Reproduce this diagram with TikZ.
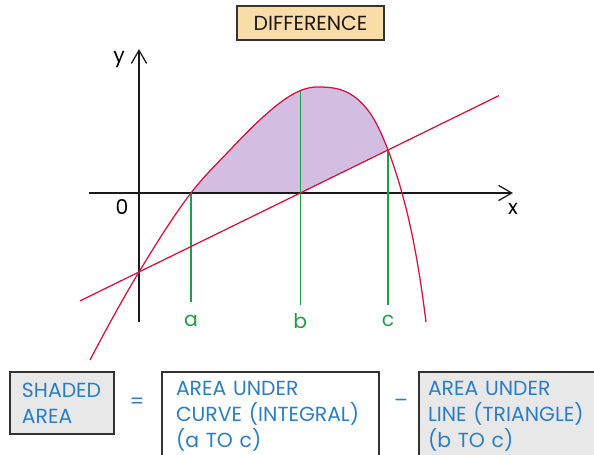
\documentclass[tikz,border=0pt]{standalone}
\usepackage{fontspec}
\setmainfont{Poppins}
\usetikzlibrary{positioning, arrows.meta}
\definecolor{curveDraw}{HTML}{D2133E}
\definecolor{guideDraw}{HTML}{1FA046}
\definecolor{shadeFill}{HTML}{D3BEE2}
\definecolor{termText}{HTML}{2A7EC4}
\definecolor{termFill}{HTML}{E8E8E8}
\definecolor{termDraw}{HTML}{333333}
\definecolor{diffFill}{HTML}{FADCA8}
\definecolor{axisDraw}{HTML}{1A1A1A}
\newcommand\curvepath{(-1.225,-4.175) .. controls (-0.817,-3.399) and (-0.408,-2.649) .. (0,-1.975)
  .. controls (0.433,-1.26) and (0.867,-0.563) .. (1.3,0)
  .. controls (1.625,0.423) and (1.95,0.734) .. (2.275,1.075)
  .. controls (2.55,1.364) and (2.825,1.653) .. (3.1,1.9)
  .. controls (3.55,2.305) and (4.0,2.65) .. (4.45,2.65)
  .. controls (4.892,2.65) and (5.333,2.618) .. (5.775,2.0)
  .. controls (5.925,1.79) and (6.075,1.465) .. (6.225,1.075)
  .. controls (6.342,0.772) and (6.458,0.42) .. (6.575,0)
  .. controls (6.775,-0.72) and (6.975,-1.625) .. (7.175,-3.225)}

\begin{document}
\begin{tikzpicture}[
  font=\fontsize{14.5}{18.4}\selectfont,
  term/.style={rectangle, draw=termDraw, line width=0.9pt, align=left,
               text=termText, inner ysep=0pt},
  gterm/.style={term, fill=termFill},
  wterm/.style={term, fill=white},
  axis/.style={-{Straight Barb[length=3.3mm,width=3.8mm]}, line width=0.9pt, draw=axisDraw},
  redline/.style={line width=0.9pt, draw=curveDraw},
  guide/.style={line width=1pt, draw=guideDraw},
  lbl/.style={text=guideDraw},
  op/.style={text=termText},
]
\useasboundingbox (-3.475,-6.525) rectangle (11.375,4.825);

% ---- Key points ----
\coordinate (O)    at (0,0);
\coordinate (a)    at (1.3,0);
\coordinate (b)    at (4.031,0);
\coordinate (c)    at (6.225,1.075);
\coordinate (btop) at (4.031,2.57);

% ---- Shaded region: under curve, above axis and line ----
\begin{scope}
  \clip (-1.5,0) -- (b) -- (9.5,2.68) |- (-1.5,5) -- cycle;
  \fill[shadeFill] \curvepath -- cycle;
\end{scope}

% ---- Title ----
\node[draw=termDraw, fill=diffFill, line width=0.8pt, text=axisDraw,
      minimum width=3.675cm, minimum height=0.85cm] (diff) at (4.2875,4.25) {DIFFERENCE};

% ---- Axes ----
\coordinate (xstart) at (-1.25,0);
\coordinate (xend)   at (9.35,0);
\coordinate (ystart) at (0,-3.225);
\coordinate (yend)   at (0,3.6);
\draw[axis] (xstart) -- (xend);
\draw[axis] (ystart) -- (yend);
\node (ylab) at (-0.5,3.325) {y};
\node (xlab) at (9.35,-0.4)  {x};
\node (olab) at (-0.425,-0.35) {0};

% ---- Verticals at a, b, c ----
\coordinate (abot) at (1.3,-2.725);
\coordinate (bbot) at (4.031,-2.8);
\coordinate (cbot) at (6.225,-2.8);
\draw[guide] (a)    -- (abot);
\draw[guide] (btop) -- (bbot);
\draw[guide] (c)    -- (cbot);
\node[lbl] (la) at (1.3,-3.2)   {a};
\node[lbl] (lb) at (4.031,-3.2) {b};
\node[lbl] (lc) at (6.225,-3.2) {c};

% ---- Curve and line ----
\coordinate (lstart) at (-1.475,-2.698);
\coordinate (lend)   at (9.0,2.435);
\draw[redline] (lstart) -- (lend);
\draw[redline] \curvepath;

% ---- Word equation ----
\node[gterm, inner xsep=0.3cm, text width=2.0cm, minimum height=1.55cm]
     (shaded) at (-1.925,-5.25) {SHADED\\AREA};
\node[op] (eq) at (-0.05,-5.25) {=};
\node[wterm, inner xsep=0.35cm, text width=4.725cm, minimum height=2.2cm]
     (under) at (3.2875,-5.575) {AREA UNDER\\CURVE (INTEGRAL)\\(a TO c)};
\node[op] (minus) at (6.55,-5.25) {--};
\node[gterm, inner xsep=0.225cm, text width=4.55cm, minimum height=2.2cm]
     (tri) at (9.5,-5.575) {AREA UNDER\\LINE (TRIANGLE)\\(b TO c)};

\end{tikzpicture}
\end{document}
